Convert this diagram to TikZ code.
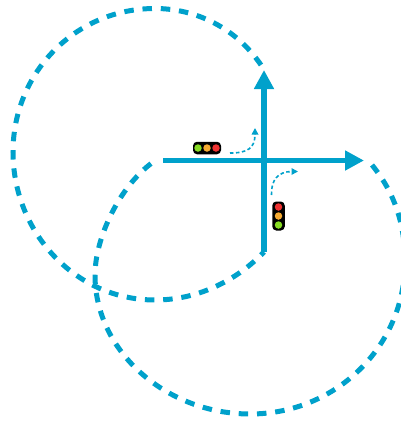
\documentclass[tikz,border=0pt]{standalone}
\usetikzlibrary{arrows.meta}
\definecolor{roadblue}{RGB}{0,161,203}
\definecolor{lampred}{RGB}{238,50,50}
\definecolor{lamporange}{RGB}{245,170,50}
\definecolor{lampgreen}{RGB}{135,220,35}
\tikzset{
    road/.style={roadblue, line width=5.5pt, -{Triangle[length=19pt,width=19pt]}},
    zone/.style={roadblue, line width=5pt, dash pattern=on 9.5pt off 8.8pt},
    turn/.style={roadblue, line width=1.6pt, dash pattern=on 3.5pt off 2.5pt, -{Triangle[length=6.5pt,width=6.5pt]}},
    housing/.style={fill=black, rounded corners=4pt, inner sep=0pt},
    lamp/.style={circle, inner sep=0pt, minimum size=7.5pt}
}
\begin{document}
\begin{tikzpicture}[x=1pt, y=-1pt]
    \useasboundingbox (0,0) rectangle (401,421);
    % ends of the two roads
    \coordinate (west) at (163,160.5);
    \coordinate (east) at (364,160.5);
    \coordinate (south) at (264,252);
    \coordinate (north) at (264,70);
    \coordinate (northgap) at (261,65);
    \coordinate (eastgap) at (372,165);
    \coordinate (westgap) at (156,160);
    % dashed zones
    \draw[zone] (northgap) .. controls (236,28) and (196,8.5) .. (155,8.5)
        .. controls (76,8.5) and (13,72) .. (13,152)
        .. controls (13,232) and (75,300) .. (155,300)
        .. controls (196,300) and (235,282) .. (south);
    \draw[zone] (eastgap) .. controls (395,193) and (405,225) .. (405,262)
        .. controls (405,346) and (336,414) .. (250,414)
        .. controls (167,414) and (95,352) .. (95,275)
        .. controls (95,238) and (120,184) .. (westgap);
    % roads
    \draw[road] (west) -- (east);
    \draw[road] (south) -- (north);
    % turns
    \coordinate (turnastart) at (230,153);
    \coordinate (turnaend) at (255,128);
    \coordinate (turnbstart) at (271.5,195);
    \coordinate (turnbend) at (298,171.5);
    \draw[turn] (turnastart) .. controls (248,153) and (255,148) .. (turnaend);
    \draw[turn] (turnbstart) .. controls (271,180) and (278,171.5) .. (turnbend);
    % traffic lights
    \node[housing, minimum width=28pt, minimum height=12.5pt] (lightwest) at (207,148) {};
    \node[lamp, fill=lampgreen] (lightwestgo) at (198,148) {};
    \node[lamp, fill=lamporange] (lightwestwait) at (207,148) {};
    \node[lamp, fill=lampred] (lightweststop) at (216,148) {};
    \node[housing, minimum width=12.5pt, minimum height=29pt] (lightsouth) at (278.5,216) {};
    \node[lamp, fill=lampred] (lightsouthstop) at (278.5,207) {};
    \node[lamp, fill=lamporange] (lightsouthwait) at (278.5,216) {};
    \node[lamp, fill=lampgreen] (lightsouthgo) at (278.5,225) {};
\end{tikzpicture}
\end{document}
